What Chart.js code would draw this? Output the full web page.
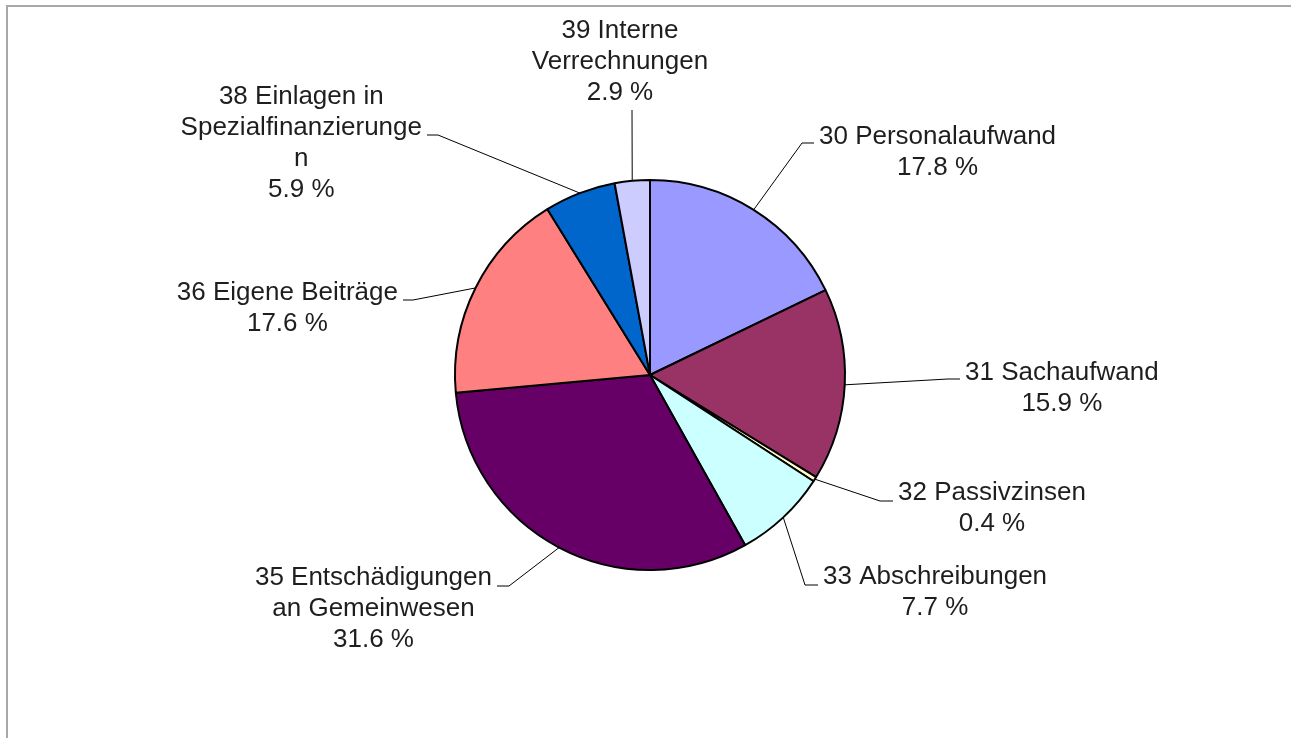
<!DOCTYPE html>
<html>
<head>
<meta charset="utf-8">
<script src="https://cdn.jsdelivr.net/npm/chart.js@4/dist/chart.umd.min.js"></script>
<style>
  html, body { margin: 0; padding: 0; background: #fff; }
  #wrap { width: 1291px; height: 738px; position: relative; }
</style>
</head>
<body>
<div id="wrap"><canvas id="pieChart" width="1291" height="738"></canvas></div>
<script>
/* ========= DATA ========= */
const categories = [
  ["30 Personalaufwand"],
  ["31 Sachaufwand"],
  ["32 Passivzinsen"],
  ["33 Abschreibungen"],
  ["35 Entschädigungen", "an Gemeinwesen"],
  ["36 Eigene Beiträge"],
  ["38 Einlagen in", "Spezialfinanzierunge", "n"],
  ["39 Interne", "Verrechnungen"]
];
const shares = [17.8, 15.9, 0.4, 7.7, 31.6, 17.6, 5.9, 2.9];
const colors = ["#9999FF", "#993366", "#FFFFCC", "#CCFFFF", "#660066", "#FF8080", "#0066CC", "#CCCCFF"];

/* ========= LABEL LAYOUT (offsets from pie centre) ========= */
// side: which side of the stub the text box sits; top: centre of first text line
// elbow: where the leader bends; stub: end of short horizontal piece
const labelLayout = [
  { side: "right", top: -238, elbow: [152, -232], stub: [164, -232] },
  { side: "right", top: -2,   elbow: [298, 4],    stub: [310, 4] },
  { side: "right", top: 118,  elbow: [230, 126],  stub: [243, 126] },
  { side: "right", top: 202,  elbow: [155, 210],  stub: [168, 210] },
  { side: "left",  top: 203,  elbow: [-141, 211], stub: [-153, 211] },
  { side: "left",  top: -82,  elbow: [-237, -75], stub: [-247, -75] },
  { side: "left",  top: -278, elbow: [-212, -240], stub: [-223, -240] },
  { side: "above", top: -344, elbow: [-18, -265], stub: [-18, -265], x: -30 }
];
const LINE_H = 31;
const GAP = 5;
const FONT = "26px 'Liberation Sans', Arial, sans-serif";

/* ========= PLUGINS ========= */
const frame = {
  id: "frame",
  beforeDraw(chart) {
    const ctx = chart.ctx;
    ctx.save();
    ctx.strokeStyle = "#a8a8a8";
    ctx.lineWidth = 2;
    ctx.beginPath();
    ctx.moveTo(7, chart.height);
    ctx.lineTo(7, 6);
    ctx.lineTo(chart.width, 6);
    ctx.stroke();
    ctx.restore();
  }
};

const pieLabels = {
  id: "pieLabels",
  afterDatasetsDraw(chart) {
    const ctx = chart.ctx;
    const arcs = chart.getDatasetMeta(0).data;
    ctx.save();
    ctx.font = FONT;
    arcs.forEach((arc, i) => {
      const lay = labelLayout[i];
      const mid = (arc.startAngle + arc.endAngle) / 2;
      const sx = arc.x + Math.cos(mid) * arc.outerRadius;
      const sy = arc.y + Math.sin(mid) * arc.outerRadius;
      const ex = arc.x + lay.stub[0];

      // leader
      ctx.strokeStyle = "#000";
      ctx.lineWidth = 1;
      ctx.beginPath();
      ctx.moveTo(sx, sy);
      ctx.lineTo(arc.x + lay.elbow[0], arc.y + lay.elbow[1]);
      ctx.lineTo(ex, arc.y + lay.stub[1]);
      ctx.stroke();

      // text box, lines centred inside it
      const lines = categories[i].concat([shares[i].toFixed(1) + " %"]);
      const boxW = Math.max(...lines.map(t => ctx.measureText(t).width));
      let cx;
      if (lay.side === "right") cx = ex + GAP + boxW / 2;
      else if (lay.side === "left") cx = ex - GAP - boxW / 2;
      else cx = arc.x + lay.x;

      ctx.fillStyle = "#1e1e1e";
      ctx.textAlign = "center";
      ctx.textBaseline = "middle";
      lines.forEach((t, k) => {
        ctx.fillText(t, cx, arc.y + lay.top + k * LINE_H);
      });
    });
    ctx.restore();
  }
};

/* ========= CHART ========= */
new Chart(document.getElementById("pieChart"), {
  type: "pie",
  data: {
    labels: categories.map(c => c.join(" ")),
    datasets: [{
      data: shares,
      backgroundColor: colors,
      borderColor: "#000",
      borderWidth: 2
    }]
  },
  options: {
    responsive: false,
    animation: false,
    radius: 195,
    layout: { padding: { left: 209, right: 200, top: 112, bottom: 100 } },
    plugins: {
      legend: { display: false },
      tooltip: { enabled: false }
    }
  },
  plugins: [frame, pieLabels]
});
</script>
</body>
</html>
